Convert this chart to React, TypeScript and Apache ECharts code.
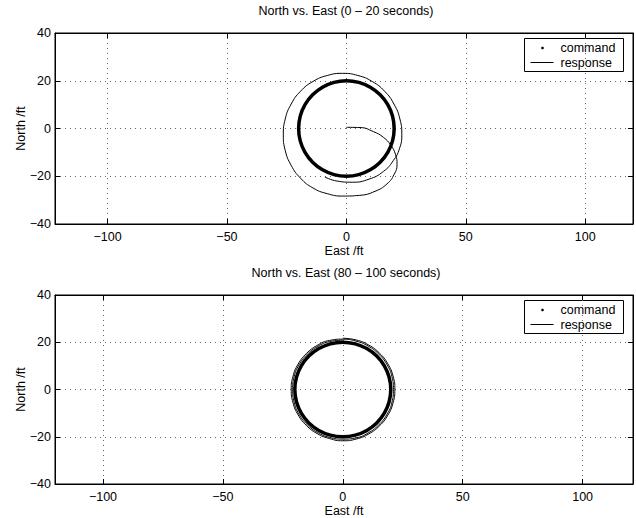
import React, { useEffect, useRef } from "react";
import * as echarts from "echarts";

const xTicks = [-100, -50, 0, 50, 100];
const titles = ["North vs. East (0 \u2013 20 seconds)", "North vs. East (80 \u2013 100 seconds)"];
const legendNames = ["command", "response"];

// commanded circle, radius 20 ft
const commandPath: number[][] = [
  [20, 0], [19.32, 5.18], [17.32, 10], [14.14, 14.14], [10, 17.32], [5.18, 19.32],
  [0, 20], [-5.18, 19.32], [-10, 17.32], [-14.14, 14.14], [-17.32, 10], [-19.32, 5.18],
  [-20, 0], [-19.32, -5.18], [-17.32, -10], [-14.14, -14.14], [-10, -17.32], [-5.18, -19.32],
  [0, -20], [5.18, -19.32], [10, -17.32], [14.14, -14.14], [17.32, -10], [19.32, -5.18], [20, 0],
];

// response 0 - 20 s
const responseEarly: number[][] = [
  [0, 0.5], [5.7, 0.4], [11.3, -1.3], [15.5, -3.7], [18.6, -7], [20.6, -11], [21.2, -15],
  [20, -19.2], [17, -23.2], [12, -26.3], [5.5, -28], [-1.6, -28.3], [-8, -27.3], [-14, -24.9],
  [-19.2, -20.8], [-23.1, -15.45], [-25.6, -9.2], [-26.4, -2.6], [-25.6, 4], [-23.1, 10.25],
  [-19.2, 15.6], [-14, 19.7], [-8, 22.2], [-1.6, 23.1], [4.8, 22.2], [10.8, 19.7], [16, 15.6],
  [19.9, 10.25], [22.4, 4], [23.2, -2.6], [22.2, -8.5], [19.6, -13.5], [15.5, -18], [9.5, -21.2],
  [2.5, -22.5], [-4, -22], [-9, -20.3],
];

// response 80 - 100 s
const responseLate: number[][] = [
  [0, 21.7], [5.62, 20.96], [10.85, 18.79], [15.34, 15.34], [18.79, 10.85], [20.96, 5.62], [21.7, 0],
  [20.96, -5.62], [18.79, -10.85], [15.34, -15.34], [10.85, -18.79], [5.62, -20.96], [0, -21.7],
  [-5.56, -20.77], [-10.75, -18.62], [-15.2, -15.2], [-18.62, -10.75], [-20.77, -5.56], [-21.5, 0],
  [-20.77, 5.56], [-18.62, 10.75], [-15.2, 15.2], [-10.75, 18.62], [-5.56, 20.77], [0, 21.3],
  [5.49, 20.48], [10.6, 18.36], [14.99, 14.99], [18.36, 10.6], [20.48, 5.49], [21.1, 0],
  [20.48, -5.49], [18.36, -10.6], [14.99, -14.99], [10.6, -18.36], [5.49, -20.48], [0, -21.0],
  [-5.44, -20.29], [-10.5, -18.19], [-14.85, -14.85], [-18.19, -10.5], [-20.29, -5.44], [-20.9, 0],
  [-20.29, 5.44], [-18.19, 10.5], [-14.85, 14.85], [-10.5, 18.19], [-5.44, 20.29], [0, 20.9],
];

const panels = [
  { top: 33, xMin: -122, xMax: 120, response: responseEarly },
  { top: 295, xMin: -120, xMax: 121, response: responseLate },
];

const FONT = "'Liberation Sans', Arial, Helvetica, sans-serif";
const FS = 12.5;
const minus = (v: number) => String(v).replace("-", "\u2212");

export default function App() {
  const ref = useRef<HTMLDivElement>(null);
  useEffect(() => {
    document.body.style.margin = "0";
    const chart = echarts.init(ref.current!, null, { renderer: "svg" });
    const gridLeft = 55;
    const gridW = 578;
    const gridH = 191;
    const grids: any[] = [];
    const xAxes: any[] = [];
    const yAxes: any[] = [];
    const series: any[] = [];
    const graphics: any[] = [];
    const titleArr: any[] = [];
    const dotted = { color: "#666", width: 1, type: [1, 4] };
    panels.forEach((p, i) => {
      grids.push({
        left: gridLeft, top: p.top, width: gridW, height: gridH,
        show: true, borderColor: "#000", borderWidth: 1, backgroundColor: "#fff",
      });
      xAxes.push({
        gridIndex: i, type: "value", min: p.xMin, max: p.xMax, position: "bottom",
        axisLine: { show: true, onZero: false, lineStyle: { color: "#000" } },
        axisTick: { show: true, inside: true, length: 5, customValues: xTicks, lineStyle: { color: "#000" } },
        axisLabel: { customValues: xTicks, formatter: minus, color: "#000", fontFamily: FONT, fontSize: FS, margin: 6 },
        splitLine: { show: true, lineStyle: dotted },
        name: "East /ft", nameLocation: "middle", nameGap: 20, nameMoveOverlap: false,
        nameTextStyle: { color: "#000", fontFamily: FONT, fontSize: FS },
      });
      xAxes.push({
        gridIndex: i, type: "value", min: p.xMin, max: p.xMax, position: "top",
        axisLine: { show: true, onZero: false, lineStyle: { color: "#000" } },
        axisTick: { show: true, inside: true, length: 5, customValues: xTicks, lineStyle: { color: "#000" } },
        axisLabel: { show: false },
        splitLine: { show: false },
      });
      yAxes.push({
        gridIndex: i, type: "value", min: -40, max: 40, interval: 20, position: "left",
        axisLine: { show: true, onZero: false, lineStyle: { color: "#000" } },
        axisTick: { show: true, inside: true, length: 5, lineStyle: { color: "#000" } },
        axisLabel: { formatter: minus, color: "#000", fontFamily: FONT, fontSize: FS, margin: 4 },
        splitLine: { show: true, lineStyle: dotted },
        name: "North /ft", nameLocation: "middle", nameGap: 28, nameMoveOverlap: false,
        nameTextStyle: { color: "#000", fontFamily: FONT, fontSize: FS },
      });
      yAxes.push({
        gridIndex: i, type: "value", min: -40, max: 40, interval: 20, position: "right",
        axisLine: { show: true, onZero: false, lineStyle: { color: "#000" } },
        axisTick: { show: true, inside: true, length: 5, lineStyle: { color: "#000" } },
        axisLabel: { show: false },
        splitLine: { show: false },
      });
      series.push({
        name: legendNames[0], type: "line", xAxisIndex: 2 * i, yAxisIndex: 2 * i,
        data: commandPath, smooth: 0.5, showSymbol: false,
        lineStyle: { color: "#000", width: 3.5 }, z: 3,
      });
      series.push({
        name: legendNames[1], type: "line", xAxisIndex: 2 * i, yAxisIndex: 2 * i,
        data: p.response, smooth: 0.5, showSymbol: false,
        lineStyle: { color: "#000", width: 1 }, z: 4,
      });
      titleArr.push({
        text: titles[i], left: gridLeft + 291, top: p.top - 29, textAlign: "center", padding: 0,
        textStyle: { color: "#000", fontFamily: FONT, fontSize: FS, fontWeight: "normal" },
      });
      const ly = p.top + 5;
      graphics.push({
        type: "group", left: 524, top: ly, z: 10,
        children: [
          { type: "rect", shape: { x: 0, y: 0, width: 99, height: 33 }, style: { fill: "#fff", stroke: "#000", lineWidth: 1 } },
          { type: "circle", shape: { cx: 18, cy: 9.5, r: 1.3 }, style: { fill: "#000" } },
          { type: "text", x: 36, y: 9.5, style: { text: legendNames[0], fill: "#000", font: `${FS}px ${FONT}`, verticalAlign: "middle" } },
          { type: "line", shape: { x1: 6, y1: 24, x2: 29, y2: 24 }, style: { stroke: "#000", lineWidth: 1 } },
          { type: "text", x: 36, y: 24, style: { text: legendNames[1], fill: "#000", font: `${FS}px ${FONT}`, verticalAlign: "middle" } },
        ],
      });
    });
    chart.setOption({
      animation: false,
      backgroundColor: "#fff",
      title: titleArr,
      grid: grids,
      xAxis: xAxes,
      yAxis: yAxes,
      series,
      graphic: graphics,
    });
    return () => chart.dispose();
  }, []);
  return <div ref={ref} style={{ width: 636, height: 518 }} />;
}
